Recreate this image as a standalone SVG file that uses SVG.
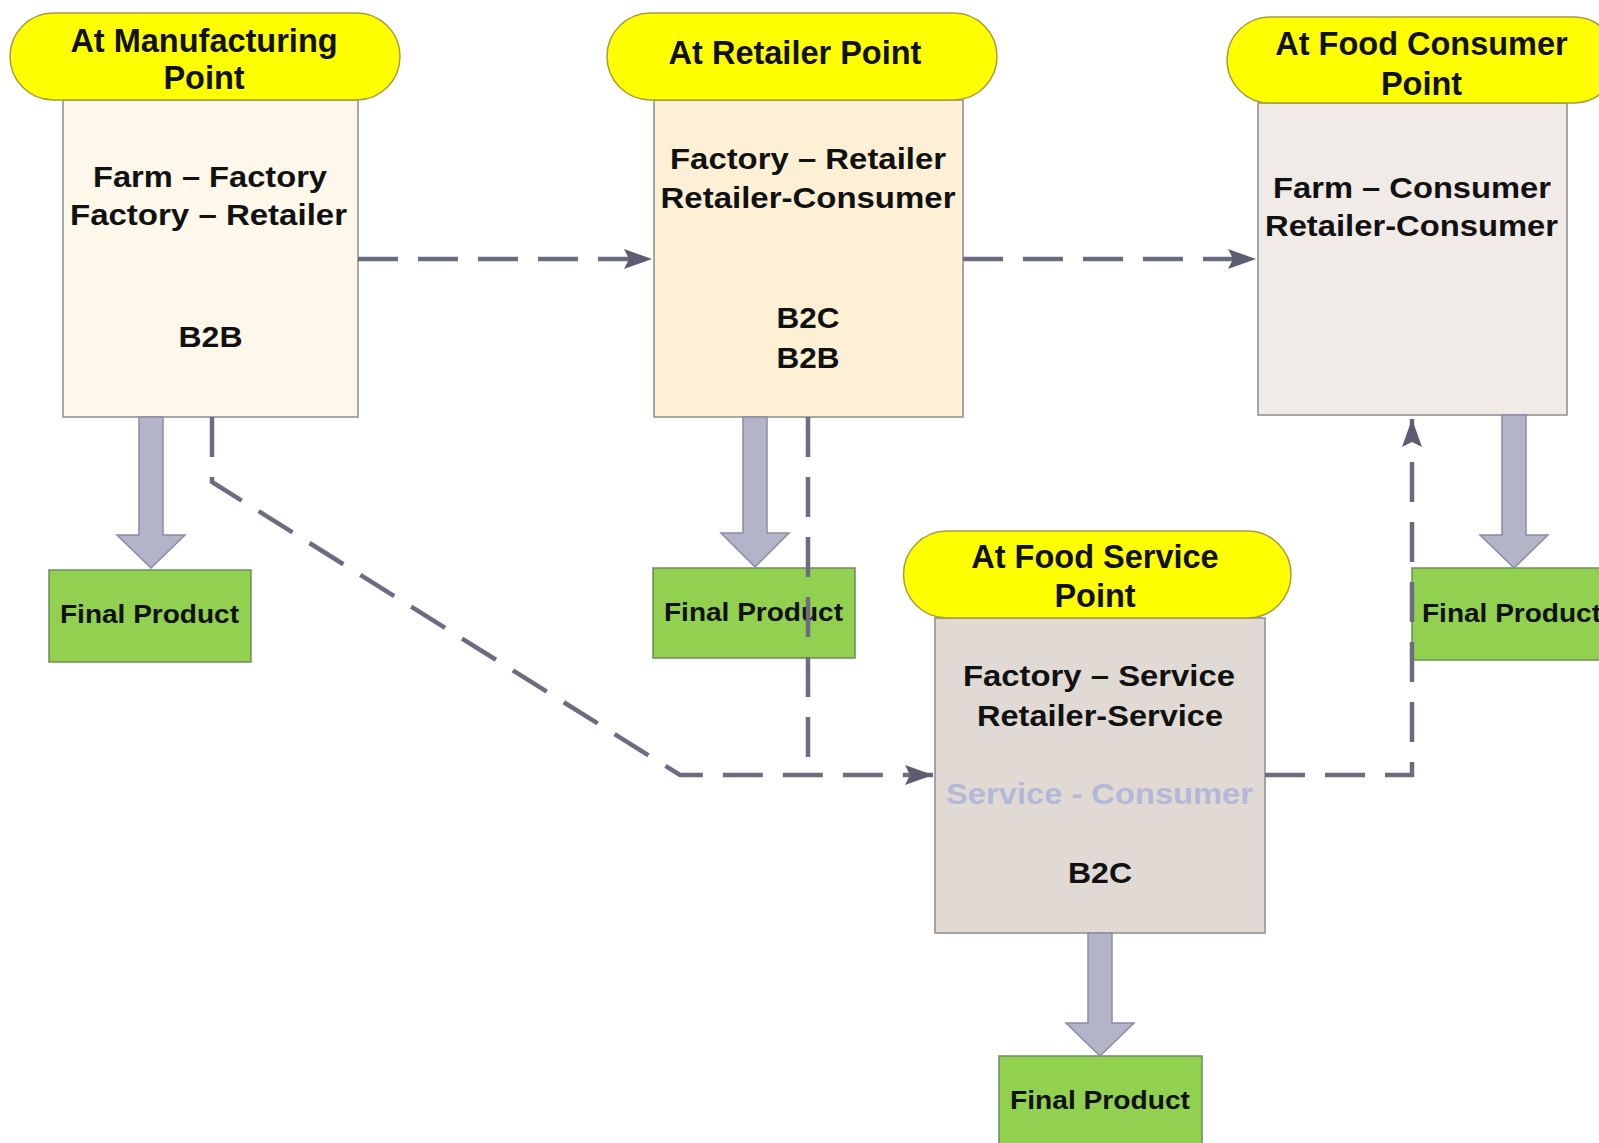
<svg xmlns="http://www.w3.org/2000/svg" width="1599" height="1143" viewBox="0 0 1599 1143">
<defs>
<style>
text{font-family:"Liberation Sans",Arial,sans-serif;font-weight:bold;fill:#111;}
.ttl{font-size:32.5px;text-anchor:middle;}
.bx{font-size:30px;text-anchor:middle;}
.fp{font-size:25px;}
.pill{fill:#ffff00;stroke:#a89c3c;stroke-width:1.5;}
.box{stroke:#8c8c8c;stroke-width:1.5;}
.green{fill:#92d050;stroke:#6c8c5c;stroke-width:1.5;}
.blk{fill:#b4b4c8;stroke:#8a8aa6;stroke-width:1.5;}
.dash{fill:none;stroke:#6c6c80;stroke-width:4.5;stroke-dasharray:40 20;}
</style>
<marker id="ah" markerUnits="userSpaceOnUse" markerWidth="30" markerHeight="22" refX="28" refY="11" orient="auto">
<path d="M0,1 L28,11 L0,21 L5,11 z" fill="#5c5c72"/>
</marker>
</defs>
<rect width="1599" height="1143" fill="#ffffff"/>

<g id="manufacturing">
<rect class="box" x="63" y="100" width="295" height="317" fill="#fdf8ea"/>
<rect class="pill" x="10" y="13" width="390" height="87" rx="43.5"/>
<text class="ttl" x="204" y="52">At Manufacturing</text>
<text class="ttl" x="204" y="89">Point</text>
<text class="bx" x="210" y="187" textLength="234" lengthAdjust="spacingAndGlyphs">Farm – Factory</text>
<text class="bx" x="208.5" y="225" textLength="277" lengthAdjust="spacingAndGlyphs">Factory – Retailer</text>
<text class="bx" x="210.5" y="347" textLength="64" lengthAdjust="spacingAndGlyphs">B2B</text>
</g>

<g id="retailer">
<rect class="box" x="654" y="100" width="309" height="317" fill="#fdf0d4"/>
<rect class="pill" x="607" y="13" width="390" height="87" rx="43.5"/>
<text class="ttl" x="795" y="64">At Retailer Point</text>
<text class="bx" x="808" y="169" textLength="276" lengthAdjust="spacingAndGlyphs">Factory – Retailer</text>
<text class="bx" x="808" y="208" textLength="295" lengthAdjust="spacingAndGlyphs">Retailer-Consumer</text>
<text class="bx" x="808" y="328" textLength="63" lengthAdjust="spacingAndGlyphs">B2C</text>
<text class="bx" x="808" y="368" textLength="63" lengthAdjust="spacingAndGlyphs">B2B</text>
</g>

<g id="consumer">
<rect class="box" x="1258" y="103" width="309" height="312" fill="#f1ebe7"/>
<rect class="pill" x="1227" y="17" width="390" height="86" rx="43"/>
<text class="ttl" x="1421.5" y="55">At Food Consumer</text>
<text class="ttl" x="1421.5" y="95">Point</text>
<text class="bx" x="1412" y="198" textLength="278" lengthAdjust="spacingAndGlyphs">Farm – Consumer</text>
<text class="bx" x="1411.5" y="236" textLength="293" lengthAdjust="spacingAndGlyphs">Retailer-Consumer</text>
</g>

<g id="foodservice">
<rect class="box" x="935" y="618" width="330" height="315" fill="#e0d9d4"/>
<rect class="pill" x="903.5" y="531" width="387.5" height="87" rx="43.5"/>
<text class="ttl" x="1095" y="567.5">At Food Service</text>
<text class="ttl" x="1095" y="607">Point</text>
<text class="bx" x="1099" y="686" textLength="272" lengthAdjust="spacingAndGlyphs">Factory – Service</text>
<text class="bx" x="1100" y="726" textLength="246" lengthAdjust="spacingAndGlyphs">Retailer-Service</text>
<text class="bx" x="1099.5" y="804" textLength="307" lengthAdjust="spacingAndGlyphs" style="fill:#b4b8d6">Service - Consumer</text>
<text class="bx" x="1100" y="883" textLength="64" lengthAdjust="spacingAndGlyphs">B2C</text>
</g>

<g id="final1">
<rect class="green" x="49" y="570" width="202" height="92"/>
<text class="fp" x="60" y="623" textLength="179" lengthAdjust="spacingAndGlyphs">Final Product</text>
</g>
<g id="final2">
<rect class="green" x="653" y="568" width="202" height="90"/>
<text class="fp" x="664" y="621" textLength="179" lengthAdjust="spacingAndGlyphs">Final Product</text>
</g>
<g id="final3">
<rect class="green" x="1412" y="568" width="202" height="92"/>
<text class="fp" x="1422" y="622" textLength="179" lengthAdjust="spacingAndGlyphs">Final Product</text>
</g>
<g id="final4">
<rect class="green" x="999" y="1056" width="203" height="92"/>
<text class="fp" x="1010" y="1109" textLength="180" lengthAdjust="spacingAndGlyphs">Final Product</text>
</g>

<g id="connectors">
<path class="blk" d="M139,417 L163,417 L163,535 L185,535 L151,568 L117,535 L139,535 z"/>
<path class="blk" d="M743,417 L767,417 L767,533 L789,533 L755,567 L721,533 L743,533 z"/>
<path class="blk" d="M1502,415 L1526,415 L1526,535 L1548,535 L1514,568 L1480,535 L1502,535 z"/>
<path class="blk" d="M1088,933 L1112,933 L1112,1023 L1134,1023 L1100,1056 L1066,1023 L1088,1023 z"/>

<path class="dash" d="M358,259 L652,259" marker-end="url(#ah)"/>
<path class="dash" d="M963,259 L1256,259" marker-end="url(#ah)"/>
<path class="dash" d="M212,417 L212,482 L680,775 L933,775" marker-end="url(#ah)"/>
<path class="dash" d="M808,417 L808,775"/>
<path class="dash" d="M1265,775 L1412,775 L1412,419" marker-end="url(#ah)"/>
</g>
</svg>
